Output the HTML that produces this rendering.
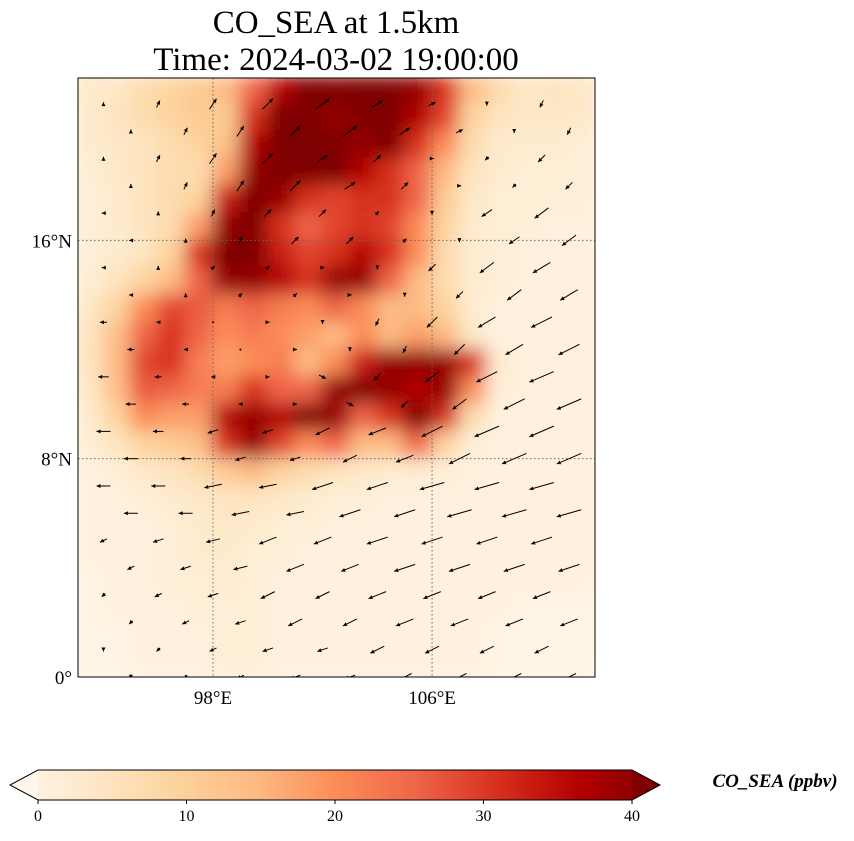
<!DOCTYPE html>
<html><head><meta charset="utf-8">
<style>
body{margin:0;background:#fff;width:854px;height:836px;overflow:hidden}
text{font-family:"Liberation Serif",serif}
</style></head>
<body>
<svg id="chart" width="854" height="836" xmlns="http://www.w3.org/2000/svg">
<defs>
<clipPath id="mapclip"><rect x="78" y="78" width="517" height="599"/></clipPath>
<filter id="blur" x="-10%" y="-10%" width="120%" height="120%"><feGaussianBlur stdDeviation="9"/></filter>
<linearGradient id="cbgrad" x1="0" x2="1" y1="0" y2="0">
<stop offset="0" stop-color="#fff7ec"/><stop offset="0.125" stop-color="#fee8c8"/><stop offset="0.25" stop-color="#fdd49e"/><stop offset="0.375" stop-color="#fdbb84"/><stop offset="0.5" stop-color="#fc8d59"/><stop offset="0.625" stop-color="#ef6548"/><stop offset="0.75" stop-color="#d7301f"/><stop offset="0.875" stop-color="#b30000"/><stop offset="1" stop-color="#7f0000"/>
</linearGradient>
</defs>
<text x="336" y="33" font-size="33" text-anchor="middle">CO_SEA at 1.5km</text>
<text x="336" y="70" font-size="33" text-anchor="middle">Time: 2024-03-02 19:00:00</text>
<rect x="78" y="78" width="517" height="599" fill="#fff7ec"/>
<g id="heat" clip-path="url(#mapclip)"><g id="heatinner" filter="url(#blur)"></g></g>
<g id="grid"></g>
<g id="arrows" clip-path="url(#mapclip)"></g>
<rect x="78" y="78" width="517" height="599" fill="none" stroke="#000" stroke-width="1"/>
<g id="ticks"></g>
<g id="cbar">
<polygon points="38,770 632,770 660,785 632,800 38,800 10,785" fill="url(#cbgrad)"/>
<polygon points="10,785 38,770 38,800" fill="#fff7ec"/>
<polygon points="632,770 660,785 632,800" fill="#7f0000"/>
<polygon points="38,770 632,770 660,785 632,800 38,800 10,785" fill="none" stroke="#000" stroke-width="1"/>
</g>
<text x="775" y="787" font-size="19" font-style="italic" font-weight="bold" text-anchor="middle">CO_SEA (ppbv)</text>
</svg>
<script>
const lonMin=93.07, lonMax=111.95, latMin=0, latMax=21.95;
const cbTicks=[0,10,20,30,40];
const lonTicks=[98,106];
const latTicks=[0,8,16];
const coRows=[
[5,5,8,10,12,15,25,35,40,40,40,40,38,30,15,8,5,6,5],
[4,6,8,10,12,12,30,40,40,38,40,40,35,28,10,6,5,5,5],
[4,5,6,8,10,14,35,40,40,40,38,40,30,20,8,4,4,4,3],
[3,5,6,8,8,18,38,40,40,40,35,30,25,15,6,4,3,3,3],
[3,4,6,8,10,32,40,38,30,28,30,30,25,12,5,3,3,3,3],
[3,4,6,8,18,38,40,30,25,28,30,28,20,10,4,3,3,2,2],
[3,4,6,10,30,40,40,32,28,30,35,30,20,8,4,3,2,2,2],
[3,6,10,15,25,38,38,35,30,38,38,25,15,8,4,3,2,2,2],
[5,10,20,28,26,22,25,22,20,25,20,15,15,10,4,2,2,2,2],
[6,14,25,30,25,20,22,20,18,15,20,15,18,15,5,2,2,2,2],
[6,15,28,30,22,18,20,22,15,20,32,38,38,38,30,4,2,2,2],
[5,14,26,25,22,22,30,25,25,38,40,38,35,38,20,3,2,2,2],
[4,10,20,18,18,35,38,35,40,38,25,30,40,30,8,2,2,2,2],
[3,6,10,12,14,30,38,28,20,25,15,15,25,10,3,2,2,2,2],
[2,3,5,6,8,12,15,10,8,6,5,4,4,3,2,2,2,2,2],
[2,2,3,4,5,6,6,5,4,3,3,2,2,2,2,2,2,2,2],
[2,2,2,3,4,5,4,3,3,2,2,2,2,2,2,2,2,2,2],
[2,2,2,3,4,4,3,3,2,2,2,2,2,2,2,2,2,2,2],
[1,2,2,3,3,4,3,2,2,2,2,2,2,2,2,2,2,2,2],
[1,2,2,2,3,3,3,2,2,2,2,2,2,2,2,2,1,1,1],
[1,1,2,2,2,3,3,2,2,2,2,2,2,2,2,1,1,1,1],
[1,1,2,2,2,3,3,2,2,2,2,2,2,2,2,1,1,1,1]];
const windLons=[94,96,98,100,102,104,106,108,110];
const windLats=[21,19,17,15,13,11,9,7,5,3,1];
const windU=[
[0,1,2,3,4,3,2,0,-1],[0,1,2,3,3,2,1,-1,-2],[-1,0,1,2,2,1,0,-3,-4],[-1,0,1,1,1,0,-2,-4,-5],
[-2,-1,0,1,0,-1,-3,-5,-6],[-3,-2,-1,1,2,-2,-4,-6,-7],[-4,-3,-3,-3,-4,-5,-6,-7,-7],
[-4,-4,-5,-5,-6,-6,-7,-7,-7],[-2,-3,-4,-5,-5,-6,-6,-6,-6],[-1,-2,-3,-4,-4,-5,-5,-5,-5],[0,-1,-2,-3,-3,-4,-4,-4,-4]];
const windV=[
[1,2,3,3,3,2,1,-1,-2],[1,2,3,3,2,2,0,-1,-2],[0,1,2,2,2,1,-1,-2,-3],[0,1,1,1,0,-1,-2,-3,-3],
[0,0,0,0,-1,-2,-3,-3,-3],[0,0,0,0,-1,-2,-3,-3,-3],[0,0,-1,-1,-2,-2,-3,-3,-3],
[0,0,-1,-1,-2,-2,-2,-2,-2],[-1,-1,-1,-2,-2,-2,-2,-2,-2],[-1,-1,-1,-2,-2,-2,-2,-2,-2],[-1,-1,-1,-1,-1,-2,-2,-2,-2]];

const NS="http://www.w3.org/2000/svg";
const x=lon=>78+(lon-lonMin)/(lonMax-lonMin)*517;
const y=lat=>78+(latMax-lat)/(latMax-latMin)*599;
const cbx=v=>38+v/40*594;
const stops=["#fff7ec","#fee8c8","#fdd49e","#fdbb84","#fc8d59","#ef6548","#d7301f","#b30000","#7f0000"];
function color(v){let t=Math.max(0,Math.min(1,v/40))*8;let i=Math.min(7,Math.floor(t));let f=t-i;
 const a=stops[i],b=stops[i+1];const p=(s,k)=>parseInt(s.substr(1+2*k,2),16);
 return "rgb("+[0,1,2].map(k=>Math.round(p(a,k)+(p(b,k)-p(a,k))*f)).join(",")+")";}
function mk(tag,attrs,parent){const e=document.createElementNS(NS,tag);for(const k in attrs)e.setAttribute(k,attrs[k]);parent.appendChild(e);return e;}
const heat=document.getElementById('heatinner');
coRows.forEach((row,r)=>{row.forEach((v,c)=>{
 const lon0=93+c, lat1=22-r;
 const e=mk('rect',{x:x(lon0)-1,y:y(lat1)-1,width:x(lon0+1)-x(lon0)+2,height:y(lat1-1)-y(lat1)+2,fill:color(v)},heat);
 
 
});});
const grid=document.getElementById('grid');
lonTicks.forEach(l=>{const e=mk('line',{x1:x(l),x2:x(l),y1:78,y2:677,stroke:'#666','stroke-dasharray':'1.5,2.5','stroke-width':1},grid);
 });
latTicks.filter(l=>l>0).forEach(l=>{const e=mk('line',{x1:78,x2:595,y1:y(l),y2:y(l),stroke:'#666','stroke-dasharray':'1.5,2.5','stroke-width':1},grid);
 });
const ticks=document.getElementById('ticks');
lonTicks.forEach(l=>{const t=mk('text',{x:x(l),y:704,'font-size':19,'text-anchor':'middle'},ticks);t.textContent=l+"°E";
 });
latTicks.forEach(l=>{const t=mk('text',{x:72,y:y(l)+7,'font-size':19,'text-anchor':'end'},ticks);t.textContent=l===0?"0°":l+"°N";
 });
const cb=document.getElementById('cbar');
cbTicks.forEach(v=>{mk('line',{x1:cbx(v),x2:cbx(v),y1:800,y2:804,stroke:'#000'},cb);
 const t=mk('text',{x:cbx(v),y:821,'font-size':16,'text-anchor':'middle'},cb);t.textContent=v;
 });
const ar=document.getElementById('arrows');
const S=3.5;
function arrow(px,py,u,v){const dx=u*S,dy=-v*S;const L=Math.hypot(dx,dy);
 const g=mk('g',{},ar);
 
 
 if(L<1){mk('circle',{cx:px,cy:py,r:1,fill:'#000'},g);return;}
 const x1=px-dx/2,y1=py-dy/2,x2=px+dx/2,y2=py+dy/2;const ux=dx/L,uy=dy/L;
 mk('line',{x1:x1,y1:y1,x2:x2,y2:y2,stroke:'#000','stroke-width':1},g);
 const h=4;mk('polygon',{points:`${x2},${y2} ${x2-ux*h-uy*2},${y2-uy*h+ux*2} ${x2-ux*h+uy*2},${y2-uy*h-ux*2}`,fill:'#000'},g);}
windLats.forEach((la,r)=>windLons.forEach((lo,c)=>{
 arrow(x(lo),y(la),windU[r][c],windV[r][c]);
 arrow(x(lo+1),y(la-1),windU[r][c],windV[r][c]);
}));
</script>
</body></html>
